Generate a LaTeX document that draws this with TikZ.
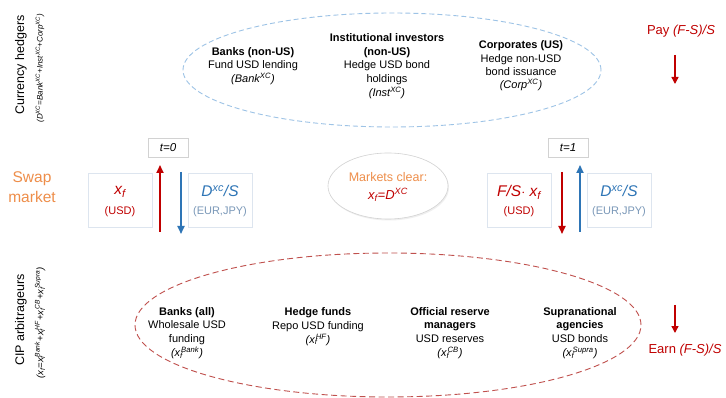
\documentclass[tikz,border=0pt]{standalone}
\usepackage{fontspec}
\setmainfont{Liberation Sans}
\usetikzlibrary{arrows.meta,shapes.geometric,shadows}
\definecolor{dred}{HTML}{C00000}
\definecolor{dblue}{HTML}{2E75B6}
\definecolor{lblue}{HTML}{9DC3E6}
\definecolor{dashred}{HTML}{C0504D}
\definecolor{orng}{HTML}{EE8E4A}
\definecolor{gblue}{HTML}{7A98B8}
\definecolor{boxline}{HTML}{DDE5EF}
\newcommand\xfs[1]{x\textsubscript{f}\kern-0.15em\textsuperscript{#1}}
\begin{document}
\begin{tikzpicture}[x=1pt,y=-1pt,
  txt/.style={align=center, font=\fontsize{11}{13.8}\selectfont, inner sep=0pt},
  side/.style={rotate=90, inner sep=0pt, font=\fontsize{12.5}{15}\selectfont},
  sidesub/.style={rotate=90, inner sep=0pt, font=\fontsize{8}{9}\selectfont\itshape},
  flowbox/.style={draw=boxline, line width=0.6pt, minimum width=64pt, minimum height=54pt, inner sep=0pt},
  tbox/.style={draw=gray!35, fill=white, line width=0.6pt, minimum width=40pt, minimum height=19pt, inner sep=0pt,
     font=\fontsize{11.5}{13}\selectfont\itshape, drop shadow={opacity=0.15, shadow xshift=1pt, shadow yshift=-1pt}},
  big/.style={font=\fontsize{15.5}{17}\selectfont\itshape},
  flowarrow/.style={line width=1.8pt, -{Triangle[length=8pt,width=7pt]}},
  payarrow/.style={line width=1.4pt, dred, -{Triangle[length=7pt,width=7pt]}},
]
\useasboundingbox[fill=white] (0,0) rectangle (726,398);

% ellipses
\node[ellipse, draw=lblue, dash pattern=on 5pt off 3pt, line width=0.9pt,
      minimum width=418pt, minimum height=114pt, inner sep=0pt] (hedgers) at (392,70) {};
\node[ellipse, draw=dashred, dash pattern=on 6pt off 3.5pt, line width=0.9pt,
      minimum width=506pt, minimum height=144pt, inner sep=0pt] (arbs) at (388,325) {};

% side labels
\node[side] (chlab) at (21,65) {Currency hedgers};
\node[sidesub] (chsub) at (40,68) {(D\textsuperscript{XC}=Bank\textsuperscript{XC}+Inst\textsuperscript{XC}+Corp\textsuperscript{XC})};
\node[side] (ciplab) at (21,320) {CIP arbitrageurs};
\node[sidesub, font=\fontsize{9.5}{11}\selectfont\itshape] (cipsub) at (40,323) {(x\textsubscript{f}=\xfs{Bank}+\xfs{HF}+\xfs{CB}+\xfs{Supra})};
\node[align=center, inner sep=0pt, text=orng, font=\fontsize{15.5}{20}\selectfont] (swap) at (32,187) {Swap\\market};

% hedgers
\node[txt] (bank) at (253,66) {\textbf{Banks (non-US)}\\Fund USD lending\\\textit{(Bank\textsuperscript{XC})}};
\node[txt] (inst) at (387,66) {\textbf{Institutional investors}\\\textbf{(non-US)}\\Hedge USD bond\\holdings\\\textit{(Inst\textsuperscript{XC})}};
\node[txt, font=\fontsize{11}{13.4}\selectfont] (corp) at (521,66) {\textbf{Corporates (US)}\\Hedge non-USD\\bond issuance\\\textit{(Corp\textsuperscript{XC})}};

% pay / earn
\node[inner sep=0pt, text=dred, font=\fontsize{13}{15}\selectfont] (pay) at (681,31) {Pay \textit{(F-S)/S}};
\coordinate (payA) at (675,55);
\coordinate (payB) at (675,84);
\draw[payarrow] (payA) -- (payB);
\node[inner sep=0pt, text=dred, font=\fontsize{13}{15}\selectfont] (earn) at (685,350) {Earn \textit{(F-S)/S}};
\coordinate (earnA) at (675,305);
\coordinate (earnB) at (675,333);
\draw[payarrow] (earnA) -- (earnB);

% t=0 side
\node[tbox] (t0) at (168,148) {t=0};
\node[flowbox] (xfbox) at (120,200) {};
\node[big, text=dred, inner sep=0pt] (xf) at (120,192) {x\textsubscript{f}};
\node[inner sep=0pt, text=dred, font=\fontsize{11}{13}\selectfont] (usd0) at (120,212) {(USD)};
\node[flowbox] (dbox0) at (220,200) {};
\node[big, text=dblue, inner sep=0pt] (dxc0) at (220,191) {D\textsuperscript{xc}/S};
\node[inner sep=0pt, text=gblue, font=\fontsize{11}{13}\selectfont] (eur0) at (220,212) {(EUR,JPY)};
\coordinate (r0a) at (160,232);
\coordinate (r0b) at (160,165);
\draw[flowarrow, dred] (r0a) -- (r0b);
\coordinate (b0a) at (181,172);
\coordinate (b0b) at (181,234);
\draw[flowarrow, dblue] (b0a) -- (b0b);

% market clear
\node[ellipse, draw=gray!35, fill=white, line width=0.6pt, minimum width=120pt, minimum height=66pt,
      drop shadow={opacity=0.12, shadow xshift=1pt, shadow yshift=-1.5pt}] (clear) at (388,186) {};
\node[inner sep=0pt, text=orng, font=\fontsize{12.5}{14}\selectfont] (cleartxt) at (388,177) {Markets clear:};
\node[inner sep=0pt, text=dred, font=\fontsize{13}{15}\selectfont\itshape] (cleareq) at (388,195) {x\textsubscript{f}=D\textsuperscript{XC}};

% t=1 side
\node[tbox] (t1) at (568,148) {t=1};
\node[flowbox] (fsbox) at (519,200) {};
\node[big, text=dred, inner sep=0pt] (fsxf) at (519,192) {F/S$\cdot$ x\textsubscript{f}};
\node[inner sep=0pt, text=dred, font=\fontsize{11}{13}\selectfont] (usd1) at (519,212) {(USD)};
\node[flowbox] (dbox1) at (619,200) {};
\node[big, text=dblue, inner sep=0pt] (dxc1) at (619,191) {D\textsuperscript{xc}/S};
\node[inner sep=0pt, text=gblue, font=\fontsize{11}{13}\selectfont] (eur1) at (619,212) {(EUR,JPY)};
\coordinate (r1a) at (562,172);
\coordinate (r1b) at (562,234);
\draw[flowarrow, dred] (r1a) -- (r1b);
\coordinate (b1a) at (580,232);
\coordinate (b1b) at (580,165);
\draw[flowarrow, dblue] (b1a) -- (b1b);

% arbitrageurs
\node[txt] (banksall) at (187,333) {\textbf{Banks (all)}\\Wholesale USD\\funding\\\textit{(\xfs{Bank})}};
\node[txt] (hf) at (318,326.5) {\textbf{Hedge funds}\\Repo USD funding\\\textit{(\xfs{HF})}};
\node[txt] (cb) at (450,333) {\textbf{Official reserve}\\\textbf{managers}\\USD reserves\\\textit{(\xfs{CB})}};
\node[txt] (supra) at (580,333) {\textbf{Supranational}\\\textbf{agencies}\\USD bonds\\\textit{(\xfs{Supra})}};
\end{tikzpicture}
\end{document}
